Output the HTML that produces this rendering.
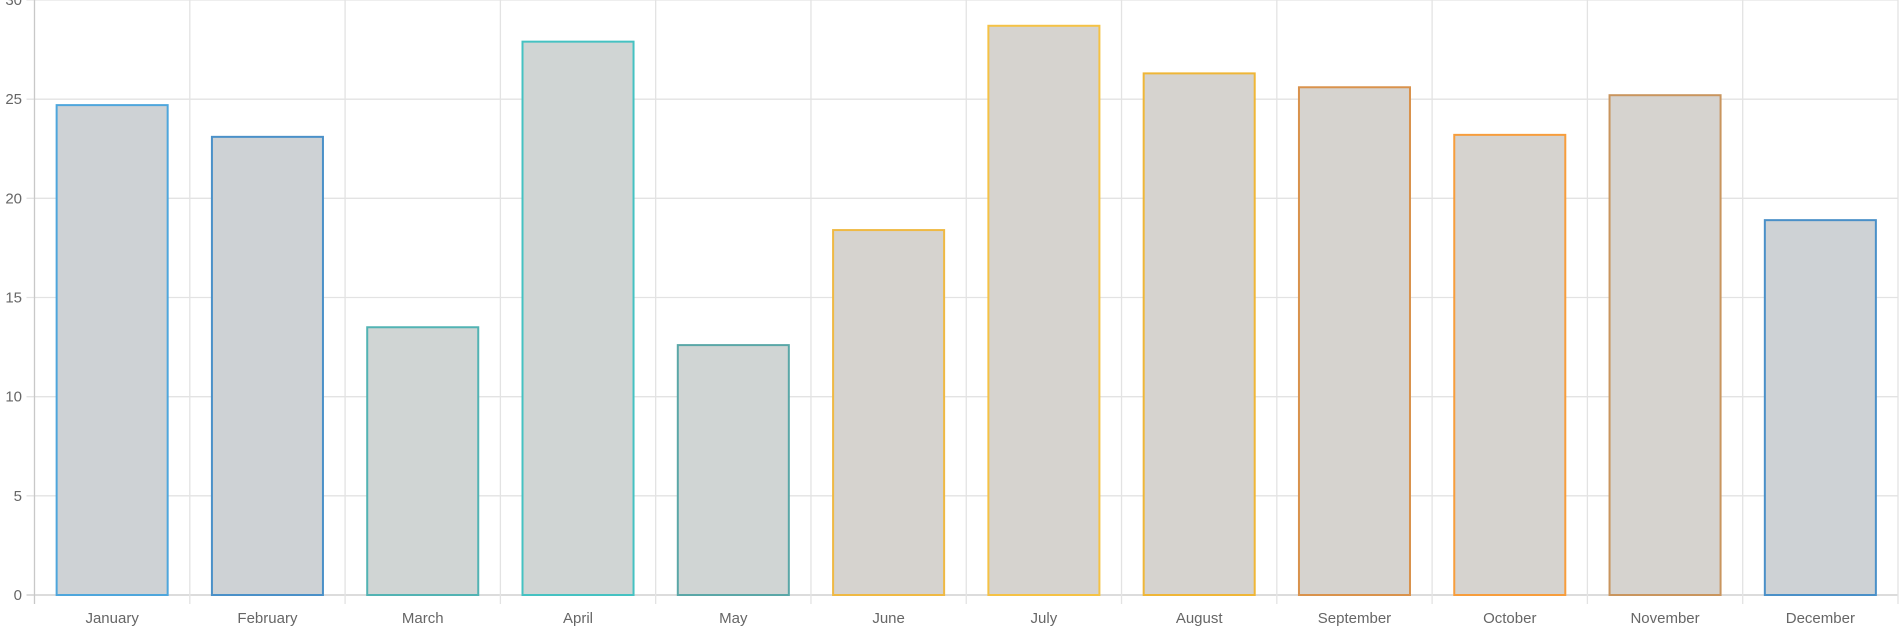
<!DOCTYPE html>
<html><head><meta charset="utf-8"><style>
html,body{margin:0;padding:0;background:#fff;}
svg{display:block;font-family:"Liberation Sans",sans-serif;}
</style></head><body>
<svg id="chart" width="1900" height="632" xmlns="http://www.w3.org/2000/svg"></svg>
<script>
const categories=["January","February","March","April","May","June","July","August","September","October","November","December"];
const values=[24.7,23.1,13.5,27.9,12.6,18.4,28.7,26.3,25.6,23.2,25.2,18.9];
const borderColors=["#4ea6dc","#4a90c8","#52b3b3","#45c2c2","#5aa7a7","#efb944","#f5c245","#efb637","#d9924c","#f79d3c","#c9955e","#4a90c8"];
const fillColors=["#ced2d5","#ced2d5","#d0d5d4","#d0d5d4","#d0d5d4","#d6d3cf","#d6d3cf","#d6d3cf","#d6d3cf","#d6d3cf","#d6d3cf","#ced2d5"];
const yTicks=[0,5,10,15,20,25,30];
const NS="http://www.w3.org/2000/svg";
const svg=document.getElementById('chart');
const L=34.5,R=1898,T=0,B=595,YMAX=30;
const cw=(R-L)/categories.length;
const y=v=>B-(v/YMAX)*(B-T);
const x=i=>L+i*cw;
function mk(t,a,p){const e=document.createElementNS(NS,t);for(const k in a)e.setAttribute(k,a[k]);(p||svg).appendChild(e);return e;}
const grid=mk('g',{});


yTicks.forEach(t=>{
  const ln=mk('line',{x1:L-8,x2:R,y1:y(t),y2:y(t),stroke:t===0?'#c8c8c8':'#e3e3e3','stroke-width':1.3},grid);
  
  
  const tx=mk('text',{x:22,y:y(t)+5,'text-anchor':'end','font-size':15,fill:'#666'});
  tx.textContent=t;
  
  
});
for(let i=0;i<=categories.length;i++){
  const ln=mk('line',{x1:x(i),x2:x(i),y1:T,y2:B+9,stroke:i===0?'#c8c8c8':'#e3e3e3','stroke-width':1.3},grid);
  
  
}
const bw=cw*0.715;
categories.forEach((c,i)=>{
  const cx=x(i)+cw/2;
  const r=mk('rect',{x:cx-bw/2,y:y(values[i]),width:bw,height:B-y(values[i]),fill:fillColors[i],stroke:borderColors[i],'stroke-width':2});
  
  
  const tx=mk('text',{x:cx,y:623,'text-anchor':'middle','font-size':15,fill:'#666'});
  tx.textContent=c;
  
  
});
</script>
</body></html>
